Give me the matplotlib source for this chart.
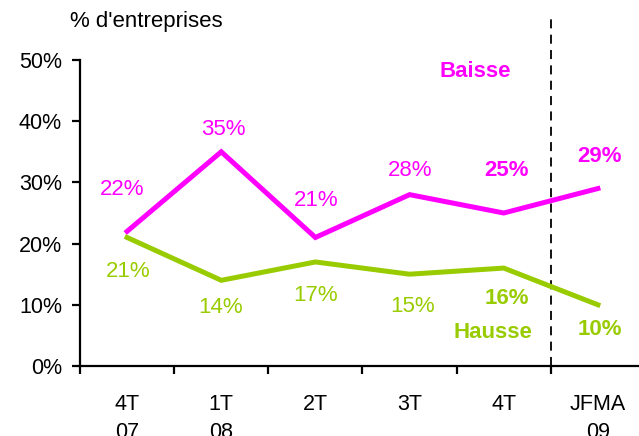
import matplotlib
matplotlib.use("Agg")
from matplotlib import pyplot as plt

plt.rcParams['font.family'] = ['Liberation Sans', 'DejaVu Sans']

# Data
periods = ['4T\n07', '1T\n08', '2T', '3T', '4T', 'JFMA\n09']
baisse = [22, 35, 21, 28, 25, 29]
hausse = [21, 14, 17, 15, 16, 10]
# last two labels of each series are in bold
bold_from = 4

# where each value label sits (data coords)
baisse_lab_x = [-0.05, 0.02, 0.01, 3.01 - 3, 0.03, 0.02]
baisse_lab_y = [28.8, 38.7, 27.1, 32.0, 32.0, 34.2]
hausse_lab_x = [0.01, -0.01, 0.0, 0.03, 0.03, 0.02]
hausse_lab_y = [15.4, 9.5, 11.6, 9.8, 11.1, 5.9]

PINK = '#FF00FF'
GREEN = '#99CC00'

fig = plt.figure(figsize=(6.39, 4.36), dpi=100)
ax = fig.add_axes([80 / 639, 70 / 436, 565 / 639, 306 / 436])

x = list(range(len(periods)))
ax.plot(x, baisse, color=PINK, lw=3.6, solid_joinstyle='miter', zorder=3)
ax.plot(x, hausse, color=GREEN, lw=3.6, solid_joinstyle='miter', zorder=3)

for i, v in enumerate(baisse):
    ax.text(i + baisse_lab_x[i], baisse_lab_y[i], f'{v}%', ha='center', va='center',
            color=PINK, fontsize=16, fontweight='bold' if i >= bold_from else 'normal')
for i, v in enumerate(hausse):
    ax.text(i + hausse_lab_x[i], hausse_lab_y[i], f'{v}%', ha='center', va='center',
            color=GREEN, fontsize=16, fontweight='bold' if i >= bold_from else 'normal')

ax.text(3.70, 48.2, 'Baisse', color=PINK, fontsize=16, fontweight='bold',
        ha='center', va='center')
ax.text(3.89, 5.4, 'Hausse', color=GREEN, fontsize=16, fontweight='bold',
        ha='center', va='center')

# separator between quarterly data and JFMA
ax.plot([4.5, 4.5], [0, 57.4], color='black', lw=1.3, ls=(0, (5, 3.5)),
        clip_on=False, zorder=2)

ax.set_xlim(-0.5, 5.5)
ax.set_ylim(0, 50)
ax.set_yticks(range(0, 51, 10))
ax.set_yticklabels([f'{t}%' for t in range(0, 51, 10)])
ax.set_xticks([i - 0.5 for i in range(len(periods))])
ax.set_xticklabels([])
ax.set_xticks(x, minor=True)
ax.set_xticklabels(periods, minor=True)

for side in ['top', 'right']:
    ax.spines[side].set_visible(False)
for side in ['left', 'bottom']:
    ax.spines[side].set_linewidth(1.6)

ax.tick_params(axis='y', length=6, width=1.6, pad=7, labelsize=15.5)
ax.tick_params(axis='x', which='major', length=6, width=1.6)
ax.tick_params(axis='x', which='minor', length=0, pad=20, labelsize=15.5)
for lab in ax.get_xticklabels(minor=True):
    lab.set_linespacing(1.45)

fig.text(70 / 639, 1 - 22 / 436, "% d'entreprises", fontsize=16,
         ha='left', va='center')

fig.savefig('out.png', dpi=100)
